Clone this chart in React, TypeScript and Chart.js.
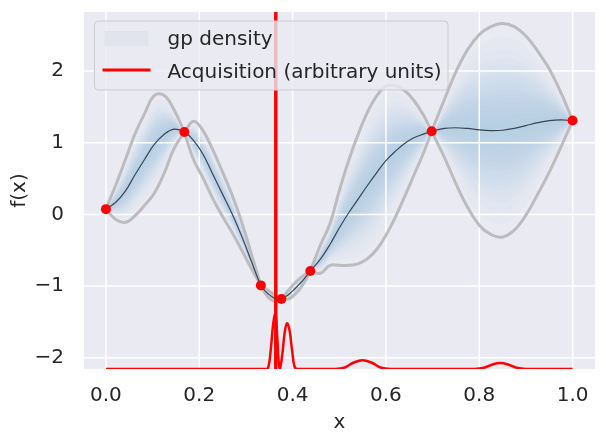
import React, { useEffect, useRef } from 'react';
import { Chart, registerables } from 'chart.js';

Chart.register(...registerables);

// GP posterior: mean and half-width of the band
const gridX = [
  0, 0.021, 0.042, 0.062, 0.083, 0.104, 0.125, 0.146, 0.168,
  0.188, 0.208, 0.229, 0.25, 0.271, 0.292, 0.312, 0.332,
  0.343, 0.354, 0.365, 0.376, 0.391, 0.406, 0.422, 0.438,
  0.46, 0.48, 0.5, 0.52, 0.54, 0.56, 0.58, 0.6, 0.62, 0.64, 0.66, 0.68, 0.698,
  0.725, 0.75, 0.775, 0.8, 0.825, 0.85, 0.875, 0.9, 0.925, 0.95, 0.975, 1.0,
];
const meanY = [
  0.074, 0.17, 0.33, 0.55, 0.77, 0.98, 1.12, 1.19, 1.15,
  1.03, 0.84, 0.56, 0.28, 0.0, -0.32, -0.66, -0.99,
  -1.08, -1.14, -1.18, -1.18, -1.12, -1.03, -0.92, -0.79,
  -0.62, -0.42, -0.19, 0.02, 0.21, 0.4, 0.58, 0.75, 0.88, 0.99, 1.07, 1.12, 1.16,
  1.2, 1.21, 1.2, 1.18, 1.17, 1.175, 1.2, 1.24, 1.28, 1.31, 1.32, 1.31,
];
const spreadY = [
  0, 0.24, 0.44, 0.57, 0.64, 0.68, 0.54, 0.27, 0,
  0.27, 0.33, 0.34, 0.31, 0.26, 0.19, 0.1, 0,
  0.04, 0.05, 0.03, 0, 0.06, 0.08, 0.06, 0,
  0.2, 0.29, 0.52, 0.73, 0.9, 1.02, 1.07, 1.04, 0.92, 0.74, 0.52, 0.27, 0,
  0.4, 0.78, 1.1, 1.33, 1.45, 1.49, 1.42, 1.25, 1.0, 0.72, 0.38, 0,
];

// observed samples
const obsX = [0, 0.168, 0.332, 0.376, 0.438, 0.698, 1.0];
const obsY = [0.074, 1.15, -0.99, -1.18, -0.79, 1.16, 1.31];

// next query point and acquisition curve (arbitrary units)
const nextX = 0.364;
const acqX = [
  0, 0.34, 0.347, 0.353, 0.358, 0.363, 0.367, 0.37, 0.373,
  0.378, 0.383, 0.388, 0.393, 0.399, 0.404, 0.41,
  0.49, 0.51, 0.53, 0.55, 0.57, 0.59, 0.61,
  0.79, 0.81, 0.83, 0.845, 0.86, 0.88, 0.9, 1.0,
];
const acqY = [
  -2.157, -2.157, -2.15, -1.9, -1.55, -1.39, -1.7, -2.05, -2.15,
  -1.95, -1.65, -1.52, -1.6, -1.9, -2.12, -2.157,
  -2.157, -2.14, -2.07, -2.035, -2.07, -2.14, -2.157,
  -2.157, -2.14, -2.09, -2.075, -2.09, -2.14, -2.157, -2.157,
];

const xTicks = [0, 0.2, 0.4, 0.6, 0.8, 1.0];
const yTicks = [-2, -1, 0, 1, 2];
const xLimits = [-0.047, 1.048];
const yLimits = [-2.157, 2.825];

// fractions of the band used to fake the density shading
const bandFractions = [0.07, 0.14, 0.2, 0.25, 0.3, 0.34, 0.38, 0.43, 0.47, 0.52, 0.56, 0.62, 0.68, 0.76, 0.88];

const FONT = "'DejaVu Sans', 'Liberation Sans', Arial, sans-serif";
const TEXT = '#262626';
const GRAY_LOWER_INDEX = 5;

const App: React.FC = () => {
  const canvasRef = useRef<HTMLCanvasElement>(null);
  const chartRef = useRef<Chart | null>(null);

  useEffect(() => {
    if (!canvasRef.current) return;
    if (chartRef.current) chartRef.current.destroy();

    // gray bound lines, broken at each observation so they cross sharply
    const boundLine = (sign: number) => {
      const pts: { x: number; y: number | null }[] = [];
      gridX.forEach((x, i) => {
        const y = meanY[i] + sign * spreadY[i];
        pts.push({ x, y });
        if (spreadY[i] === 0 && i > 0 && i < gridX.length - 1) {
          pts.push({ x, y: null });
          pts.push({ x, y });
        }
      });
      return pts;
    };

    const bandSets: any[] = [];
    bandFractions.forEach((f) => {
      bandSets.push({
        data: gridX.map((x, i) => ({ x, y: meanY[i] + f * spreadY[i] })),
        borderColor: 'transparent', borderWidth: 0, pointRadius: 0, fill: false, tension: 0.4,
      });
      bandSets.push({
        data: gridX.map((x, i) => ({ x, y: meanY[i] - f * spreadY[i] })),
        borderColor: 'transparent', borderWidth: 0, pointRadius: 0, tension: 0.4,
        fill: '-1', backgroundColor: 'rgba(70,150,225,0.024)',
      });
    });

    const bgPlugin = {
      id: 'plotBg',
      beforeDraw(chart: Chart) {
        const { ctx, chartArea: a } = chart;
        ctx.save();
        ctx.fillStyle = '#EAEAF2';
        ctx.fillRect(a.left, a.top, a.right - a.left, a.bottom - a.top);
        ctx.restore();
      },
    };

    // white grid sits above the density but below the lines
    const gridPlugin = {
      id: 'midGrid',
      beforeDatasetDraw(chart: Chart, args: any) {
        if (args.index !== GRAY_LOWER_INDEX) return;
        const { ctx, chartArea: a, scales } = chart;
        ctx.save();
        ctx.strokeStyle = '#ffffff';
        ctx.lineWidth = 1.5;
        xTicks.forEach((v) => {
          const px = scales.x.getPixelForValue(v);
          ctx.beginPath(); ctx.moveTo(px, a.top); ctx.lineTo(px, a.bottom); ctx.stroke();
        });
        yTicks.forEach((v) => {
          const py = scales.y.getPixelForValue(v);
          ctx.beginPath(); ctx.moveTo(a.left, py); ctx.lineTo(a.right, py); ctx.stroke();
        });
        ctx.restore();
      },
    };

    const legendPlugin = {
      id: 'boxLegend',
      afterDraw(chart: Chart) {
        const { ctx, chartArea: a } = chart;
        const left = a.left + 10.5;
        const top = a.top + 9;
        const w = 353.5;
        const h = 69;
        ctx.save();
        ctx.beginPath();
        ctx.roundRect(left, top, w, h, 4);
        ctx.fillStyle = 'rgba(234,234,242,0.8)';
        ctx.fill();
        ctx.strokeStyle = '#cccccc';
        ctx.lineWidth = 1;
        ctx.stroke();

        ctx.fillStyle = '#E2E4ED';
        ctx.fillRect(left + 10, top + 10, 44, 15);

        ctx.strokeStyle = '#ff0000';
        ctx.lineWidth = 3;
        ctx.beginPath();
        ctx.moveTo(left + 8, top + 49);
        ctx.lineTo(left + 56, top + 49);
        ctx.stroke();

        ctx.fillStyle = TEXT;
        ctx.font = `20px ${FONT}`;
        ctx.textBaseline = 'alphabetic';
        ctx.fillText('gp density', left + 73, top + 24);
        ctx.fillText('Acquisition (arbitrary units)', left + 73, top + 57);
        ctx.restore();
      },
    };

    chartRef.current = new Chart(canvasRef.current, {
      type: 'line',
      data: {
        datasets: [
          {
            data: obsX.map((x, i) => ({ x, y: obsY[i] })),
            showLine: false, pointRadius: 5, pointBackgroundColor: '#ff0000',
            pointBorderColor: '#ff0000', pointBorderWidth: 0,
          },
          {
            data: gridX.map((x, i) => ({ x, y: meanY[i] })),
            borderColor: '#3b4557', borderWidth: 1.2, pointRadius: 0, tension: 0.4, fill: false,
          },
          {
            data: [{ x: nextX, y: yLimits[0] }, { x: nextX, y: yLimits[1] }],
            borderColor: '#ff0000', borderWidth: 3.5, pointRadius: 0, fill: false, clip: 0,
          },
          {
            data: acqX.map((x, i) => ({ x, y: acqY[i] })),
            borderColor: '#ff0000', borderWidth: 2.5, pointRadius: 0, tension: 0.4, fill: false, clip: 0,
          },
          {
            data: boundLine(1),
            borderColor: '#bcbcc0', borderWidth: 3, pointRadius: 0, tension: 0.4, fill: false,
          },
          {
            data: boundLine(-1),
            borderColor: '#bcbcc0', borderWidth: 3, pointRadius: 0, tension: 0.4, fill: false,
          },
          ...bandSets,
        ],
      },
      options: {
        animation: false,
        responsive: true,
        maintainAspectRatio: false,
        events: [],
        layout: { padding: { top: 12, right: 11, left: 0, bottom: 0 } },
        plugins: { legend: { display: false }, tooltip: { enabled: false } },
        scales: {
          x: {
            type: 'linear',
            min: xLimits[0],
            max: xLimits[1],
            afterBuildTicks: (s: any) => { s.ticks = xTicks.map((v) => ({ value: v })); },
            afterFit: (s: any) => { s.height = 77; s.paddingLeft = 0; s.paddingRight = 0; },
            grid: { display: false, drawTicks: false },
            border: { display: false },
            ticks: {
              padding: 15, color: TEXT, font: { family: FONT, size: 20 },
              callback: (v: any) => Number(v).toFixed(1),
            },
            title: {
              display: true, text: 'x', color: TEXT,
              font: { family: FONT, size: 20 }, padding: { top: 0, bottom: 11 },
            },
          },
          y: {
            type: 'linear',
            min: yLimits[0],
            max: yLimits[1],
            afterBuildTicks: (s: any) => { s.ticks = yTicks.map((v) => ({ value: v })); },
            afterFit: (s: any) => { s.width = 84; s.paddingTop = 0; s.paddingBottom = 0; },
            grid: { display: false, drawTicks: false },
            border: { display: false },
            ticks: {
              padding: 20, color: TEXT, font: { family: FONT, size: 20 },
              callback: (v: any) => (Number(v) < 0 ? '\u2212' + Math.abs(Number(v)) : String(v)),
            },
            title: {
              display: true, text: 'f(x)', color: TEXT,
              font: { family: FONT, size: 20 }, padding: { top: 8, bottom: 0 },
            },
          },
        },
      },
      plugins: [bgPlugin, gridPlugin, legendPlugin],
    });

    return () => {
      if (chartRef.current) chartRef.current.destroy();
    };
  }, []);

  return (
    <div style={{ position: 'absolute', left: 0, top: 0, width: 606, height: 446, background: '#ffffff' }}>
      <canvas ref={canvasRef}></canvas>
    </div>
  );
};

export default App;
